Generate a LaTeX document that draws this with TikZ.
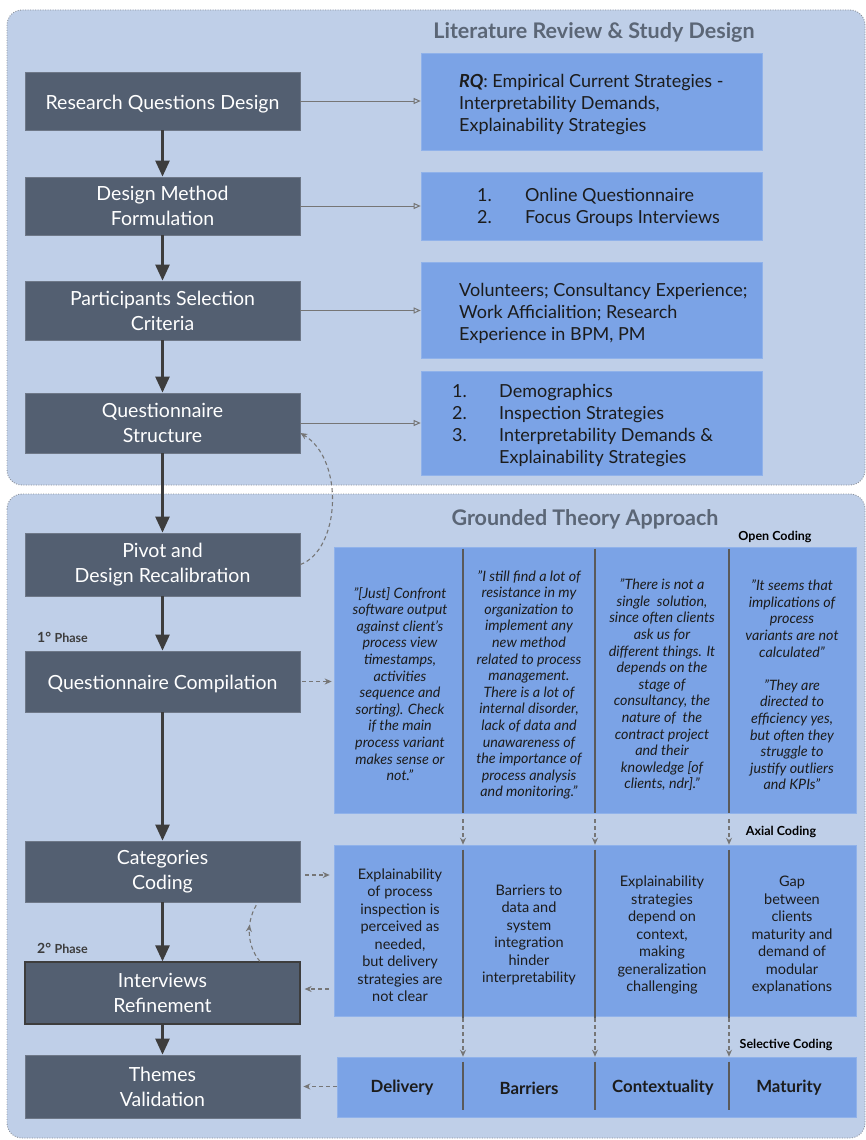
\documentclass[tikz,border=0pt]{standalone}
\usepackage{fontspec}
\setmainfont{Lato}
\usetikzlibrary{arrows.meta,decorations.markings}

\definecolor{panel}{HTML}{BFCFE8}
\definecolor{panelline}{HTML}{8A9099}
\definecolor{darkbox}{HTML}{535F71}
\definecolor{darkedge}{HTML}{6E7888}
\definecolor{lightbox}{HTML}{7BA3E6}
\definecolor{lightedge}{HTML}{90B2EA}
\definecolor{titlegray}{HTML}{5B6676}
\definecolor{flowline}{HTML}{3D3D3D}
\definecolor{linkgray}{HTML}{767676}
\definecolor{sepgray}{HTML}{5A5A5A}
\definecolor{inktext}{HTML}{1C1C1C}

\newcommand{\phaseword}{{\fontsize{12.5}{14}\selectfont Phase}}

\tikzset{
  panelbox/.style={fill=panel, draw=panelline, line width=0.9pt,
    dash pattern=on 0.9pt off 1.6pt, rounded corners=15pt},
  stage/.style={fill=darkbox, draw=darkedge, line width=0.8pt,
    minimum width=275pt, text=white, align=center, inner sep=0pt,
    font=\fontsize{19.5}{25}\selectfont},
  oneline/.style={text height=16pt, text depth=0pt},
  info/.style={fill=lightbox, draw=lightedge, line width=0.6pt, inner sep=0pt},
  infotext/.style={text=inktext, align=left, inner sep=0pt,
    font=\fontsize{18}{22}\selectfont},
  quote/.style={text=inktext, align=center, inner sep=0pt,
    font=\itshape\fontsize{14.3}{16.6}\selectfont},
  axial/.style={text=inktext, align=center, inner sep=0pt,
    font=\fontsize{14.5}{17.5}\selectfont},
  theme/.style={text=inktext, inner sep=0pt, font=\bfseries\fontsize{16.8}{19}\selectfont},
  codelabel/.style={text=black, inner sep=0pt, font=\bfseries\fontsize{12.5}{14}\selectfont},
  phase/.style={text=flowline, inner sep=0pt, anchor=west, font=\bfseries\fontsize{14}{16}\selectfont},
  paneltitle/.style={text=titlegray, inner sep=0pt, font=\bfseries\fontsize{21.5}{25}\selectfont},
  flow/.style={draw=flowline, line width=2.6pt, -{Triangle[width=14pt,length=16pt]}},
  link/.style={draw=linkgray, line width=1pt, -{Triangle[open,width=6pt,length=7pt]}},
  dlink/.style={draw=linkgray, line width=1.1pt, dash pattern=on 4pt off 3pt,
    -{Stealth[width=6pt,length=7pt]}},
  sepline/.style={draw=sepgray, line width=1.2pt},
}

\begin{document}
\begin{tikzpicture}[x=1pt,y=-1pt]
\useasboundingbox (0,0) rectangle (866,1140);
\fill[white] (0,0) rectangle (866,1140);

% the two phases of the study
\draw[panelbox] (7,10) rectangle (865,485);
\draw[panelbox] (7,494) rectangle (865,1138);
\node[paneltitle] (title1) at (594,32) {Literature Review \& Study Design};
\node[paneltitle] (title2) at (585,519) {Grounded Theory Approach};

% main flow of stages
\node[stage, oneline, minimum height=58pt] (rqd) at (162.5,101) {Research Questions Design};
\node[stage, minimum height=58pt] (dmf) at (162.5,206)   {Design Method\\Formulation};
\node[stage, minimum height=59pt] (psc) at (162.5,310.5) {Participants Selection\\Criteria};
\node[stage, minimum height=60pt] (qs)  at (162.5,423)   {Questionnaire\\Structure};
\node[stage, minimum height=63pt] (pdr) at (162.5,564.5) {Pivot and\\Design Recalibration};
\node[stage, oneline, minimum height=61pt] (qc) at (162.5,681.5) {Questionnaire Compilation};
\node[stage, minimum height=61pt] (cc)  at (162.5,871.5) {Categories\\Coding};
\node[stage, minimum height=62pt, draw=flowline, line width=1.2pt] (ir) at (162.5,993) {Interviews\\Refinement};
\node[stage, minimum height=63pt] (tv)  at (162.5,1086.5) {Themes\\Validation};

\draw[flow] (rqd) -- (dmf);
\draw[flow] (dmf) -- (psc);
\draw[flow] (psc) -- (qs);
\draw[flow] (qs) -- (pdr);
\draw[flow] (pdr) -- (qc);
\draw[flow] (qc) -- (cc);
\draw[flow] (cc) -- (ir);
\draw[flow] (ir) -- (tv);

\node[phase] (ph1) at (37,637) {1° \phaseword};
\node[phase] (ph2) at (37,948) {2° \phaseword};

% study design outputs
\node[info, minimum width=341pt, minimum height=97pt]  (rq)   at (591.5,101.5) {};
\node[info, minimum width=341pt, minimum height=68pt]  (meth) at (591.5,206) {};
\node[info, minimum width=341pt, minimum height=96pt]  (vol)  at (591.5,310) {};
\node[info, minimum width=341pt, minimum height=104pt] (demo) at (591.5,423) {};

\node[infotext, anchor=west] (rqt) at (459,104.5)
  {\textbf{\textit{RQ}}: Empirical Current Strategies -\\Interpretability Demands,\\Explainability Strategies};
\node[infotext, anchor=west] (metht) at (477,208.5)
  {\begin{tabular}{@{}p{48pt}@{}l@{}}1.&Online Questionnaire\\2.&Focus Groups Interviews\end{tabular}};
\node[infotext, anchor=west] (volt) at (459,313.5)
  {Volunteers; Consultancy Experience;\\Work Afficialition; Research\\Experience in BPM, PM};
\node[infotext, anchor=west] (demot) at (452,426.5)
  {\begin{tabular}{@{}p{47pt}@{}l@{}}1.&Demographics\\2.&Inspection Strategies\\3.&Interpretability Demands \&\\&Explainability Strategies\end{tabular}};

\draw[link] (rqd.east) -- (rqd.east -| rq.west);
\draw[link] (dmf.east) -- (dmf.east -| meth.west);
\draw[link] (psc.east) -- (psc.east -| vol.west);
\draw[link] (qs.east)  -- (qs.east -| demo.west);

% coding stages
\node[info, minimum width=522pt, minimum height=266pt] (open)  at (595,680) {};
\node[info, minimum width=522pt, minimum height=171pt] (axial) at (595,930.5) {};
\node[info, minimum width=519pt, minimum height=60pt]  (sel)   at (596.5,1087) {};

\node[codelabel] (lopen)  at (775,537)  {Open Coding};
\node[codelabel] (laxial) at (781,832)  {Axial Coding};
\node[codelabel] (lsel)   at (786,1045) {Selective Coding};

\coordinate (s1) at (463,0);
\coordinate (s2) at (595,0);
\coordinate (s3) at (729,0);

\foreach \s in {s1,s2,s3}{
  \draw[sepline] ([yshift=-2pt]\s |- open.north) -- (\s |- open.south);
  \draw[sepline] ([yshift=-5pt]\s |- axial.north) -- ([yshift=-2pt]\s |- axial.south);
  \draw[sepline] ([yshift=-5pt]\s |- sel.north) -- ([yshift=7pt]\s |- sel.south);
  \draw[dlink] ([yshift=-6pt]\s |- open.south) -- (\s |- axial.north);
  \draw[dlink] ([yshift=-2pt]\s |- axial.south) -- (\s |- sel.north);
}

\node[quote] (q1) at (400,684) {"[Just] Confront\\software output\\against client's\\process view\\timestamps,\\activities\\sequence and\\sorting). Check\\if the main\\process variant\\makes sense or\\not."};
\node[quote] (q2) at (529,685) {"I still find a lot of\\resistance in my\\organization to\\implement any\\new method\\related to process\\management.\\There is a lot of\\internal disorder,\\lack of data and\\unawareness of\\the importance of\\process analysis\\and monitoring."};
\node[quote] (q3) at (662,685) {"There is not a\\single\ \ solution,\\since often clients\\ask us for\\different things. It\\depends on the\\stage of\\consultancy, the\\nature of\ \ the\\contract project\\and their\\knowledge [of\\clients, ndr]."};
\node[quote] (q4) at (792,685) {"It seems that\\implications of\\process\\variants are not\\calculated"\\[16.6pt]"They are\\directed to\\efficiency yes,\\but often they\\struggle to\\justify outliers\\and KPIs"};

\node[axial] (a1) at (400,935) {Explainability\\of process\\inspection is\\perceived as\\needed,\\but delivery\\strategies are\\not clear};
\node[axial] (a2) at (529,935) {Barriers to\\data and\\system\\integration\\hinder\\interpretability};
\node[axial] (a3) at (662,935) {Explainability\\strategies\\depend on\\context,\\making\\generalization\\challenging};
\node[axial] (a4) at (792,935) {Gap\\between\\clients\\maturity and\\demand of\\modular\\explanations};

\node[theme] (t1) at (402,1088) {Delivery};
\node[theme] (t2) at (529,1088) {Barriers};
\node[theme] (t3) at (663,1088) {Contextuality};
\node[theme] (t4) at (789,1088) {Maturity};

% feedback between stages and coding
\draw[dlink, shorten <=2pt, shorten >=2pt] (qc.east) -- (qc.east -| open.west);
\draw[dlink, shorten <=5pt, shorten >=4pt] ([yshift=-3.5pt]cc.east) -- ([yshift=-3.5pt]cc.east -| axial.west);
\draw[dlink, shorten <=5pt, shorten >=4pt] ([yshift=4pt]ir.east -| axial.west) -- ([yshift=4pt]ir.east);
\draw[dlink, shorten >=3pt] (tv.east -| sel.west) -- (tv.east);

\draw[dlink] (pdr.east) .. controls (340,550) and (345,460) .. ([yshift=-10pt]qs.east);
\draw[draw=linkgray, line width=1.1pt, dash pattern=on 4pt off 3pt,
  postaction={decorate, decoration={markings,
    mark=at position 0.62 with {\arrow{Stealth[width=6pt,length=7pt]}}}}]
  ([xshift=97.5pt]ir.north) .. controls (246,945) and (246,920) .. ([xshift=95.5pt]cc.south);
\end{tikzpicture}
\end{document}
